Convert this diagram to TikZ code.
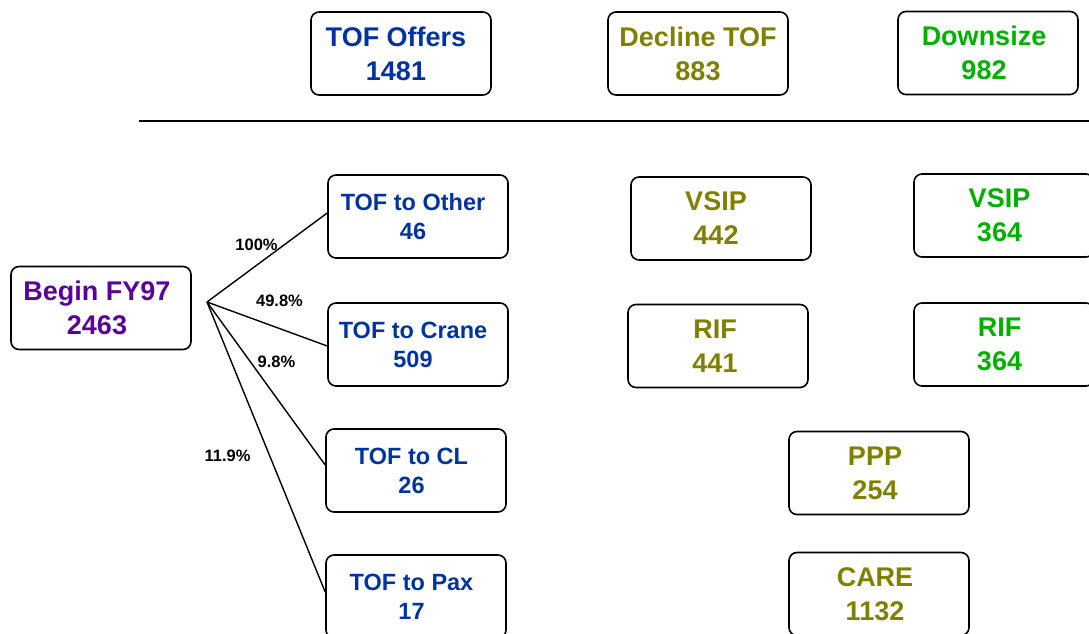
\documentclass[tikz,border=0pt]{standalone}
\usepackage{fontspec}
\setmainfont{Liberation Sans}
\definecolor{tofblue}{RGB}{0,51,160}
\definecolor{olivetxt}{RGB}{128,128,0}
\definecolor{greentxt}{RGB}{0,176,0}
\definecolor{purpletxt}{RGB}{90,0,155}
\tikzset{
  box/.style={draw=black, line width=1.6pt, rounded corners=8pt,
    minimum width=180pt, minimum height=83pt, inner sep=0pt},
  bigtxt/.style={font=\bfseries\fontsize{27}{34}\selectfont, align=center, inner sep=0pt},
  midtxt/.style={font=\bfseries\fontsize{23.5}{29}\selectfont, align=center, inner sep=0pt},
  pct/.style={font=\bfseries\fontsize{16.5}{19}\selectfont, inner sep=0pt},
  fanline/.style={draw=black, line width=1.4pt},
}
\begin{document}
\begin{tikzpicture}[x=1pt,y=-1pt]
  \useasboundingbox (0,0) rectangle (1089,634);
  \clip (0,0) rectangle (1089,634);

  % header boxes
  \node[box] (offers)   at (401,53.5) {};
  \node[box] (decline)  at (698,53.5) {};
  \node[box] (downsize) at (988,53)   {};
  \node[bigtxt, text=tofblue]   (offers-t)   at ([xshift=-5pt]offers.center)   {TOF Offers\\1481};
  \node[bigtxt, text=olivetxt]  (decline-t)  at (decline.center)               {Decline TOF\\883};
  \node[bigtxt, text=greentxt]  (downsize-t) at ([xshift=-4pt]downsize.center) {Downsize\\982};

  % separator rule
  \coordinate (rule-l) at (139,121);
  \coordinate (rule-r) at (1089,121);
  \draw[line width=2pt] (rule-l) -- (rule-r);

  % starting population
  \node[box] (begin) at (101,308) {};
  \node[bigtxt, text=purpletxt] (begin-t) at ([xshift=-4pt]begin.center) {Begin FY97\\2463};

  % transfer-of-function boxes
  \node[box] (other) at (418,216.5) {};
  \node[box] (crane) at (418,344.5) {};
  \node[box] (cl)    at (416,470.5) {};
  \node[box] (pax)   at (416,596.5) {};
  \node[midtxt, text=tofblue] (other-t) at ([xshift=-5pt]other.center) {TOF to Other\\46};
  \node[midtxt, text=tofblue] (crane-t) at ([xshift=-5pt]crane.center) {TOF to Crane\\509};
  \node[midtxt, text=tofblue] (cl-t)    at ([xshift=-4.5pt]cl.center)  {TOF to CL\\26};
  \node[midtxt, text=tofblue] (pax-t)   at ([xshift=-4.5pt]pax.center) {TOF to Pax\\17};

  % decline-TOF outcomes
  \node[box] (vsip1) at (721,218.5) {};
  \node[box] (rif1)  at (718,346)   {};
  \node[box] (ppp)   at (879,473)   {};
  \node[box] (care)  at (879,594)   {};
  \node[bigtxt, text=olivetxt] (vsip1-t) at ([xshift=-5pt]vsip1.center) {VSIP\\442};
  \node[bigtxt, text=olivetxt] (rif1-t)  at ([xshift=-3pt]rif1.center)  {RIF\\441};
  \node[bigtxt, text=olivetxt] (ppp-t)   at ([xshift=-4pt]ppp.center)   {PPP\\254};
  \node[bigtxt, text=olivetxt] (care-t)  at ([xshift=-4pt]care.center)  {CARE\\1132};

  % downsize outcomes
  \node[box] (vsip2) at (1004,215.5) {};
  \node[box] (rif2)  at (1004,344.5) {};
  \node[bigtxt, text=greentxt] (vsip2-t) at ([xshift=-4.5pt]vsip2.center) {VSIP\\364};
  \node[bigtxt, text=greentxt] (rif2-t)  at ([xshift=-4.5pt]rif2.center)  {RIF\\364};

  % fan of transfers
  \coordinate (fan) at (207,302);
  \draw[fanline] (fan) -- ([yshift=3.5pt]other.west);
  \draw[fanline] (fan) -- ([yshift=-1.5pt]crane.west);
  \draw[fanline] (fan) -- ([yshift=5.5pt]cl.west);
  \draw[fanline] (fan) -- ([yshift=4.5pt]pax.west);

  \node[pct] (p-other) at (256.5,244.5) {100\%};
  \node[pct] (p-crane) at (279.5,301)   {49.8\%};
  \node[pct] (p-cl)    at (276.5,362)   {9.8\%};
  \node[pct] (p-pax)   at (227.5,456)   {11.9\%};
\end{tikzpicture}
\end{document}
